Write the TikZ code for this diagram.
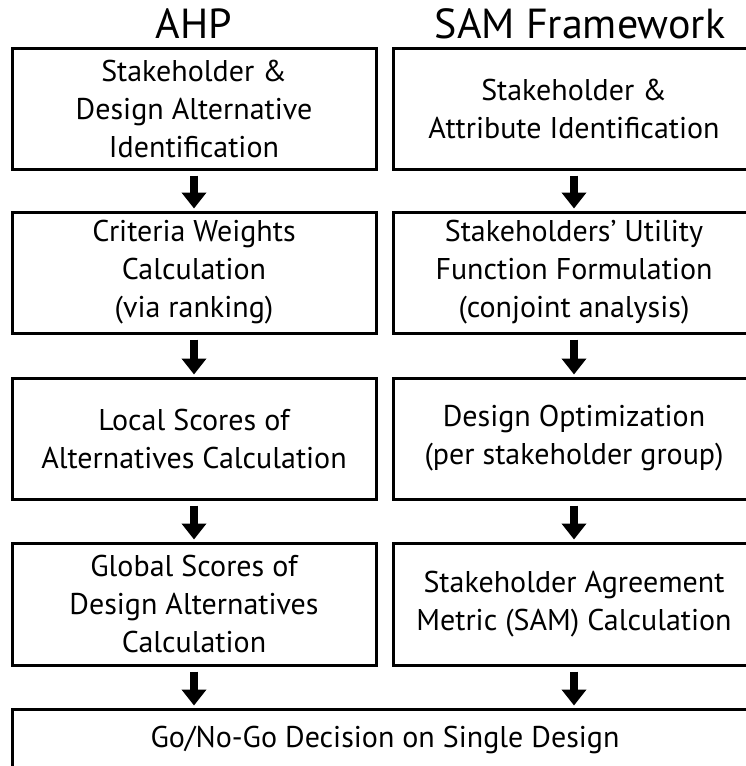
\documentclass[tikz,border=0pt]{standalone}
\usepackage{fontspec}
\setmainfont{PT Sans}
\usetikzlibrary{arrows.meta}
\begin{document}
\begin{tikzpicture}[x=1pt,y=-1pt,line width=3pt,
  step node/.style={draw,rectangle,inner sep=0pt,align=center,font=\fontsize{30}{38}\selectfont},
  title node/.style={font=\fontsize{42}{50}\selectfont},
  big arrow/.style={line width=8pt,-{Triangle[width=24pt,length=16pt]},shorten <=5pt,shorten >=2pt}]
\useasboundingbox (0,0) rectangle (746,766);
\clip (0,0) rectangle (746,766);
\node[title node] (ahp) at (194,24) {AHP};
\node[title node] (sam) at (580,24) {SAM Framework};
\begin{scope}[every node/.style={step node}]
\node[minimum width=364pt,minimum height=121pt] (l1) at (194,108.5) {Stakeholder \&\\Design Alternative\\Identification};%1
\node[minimum width=364pt,minimum height=121pt] (l2) at (194,272.5) {Criteria Weights\\Calculation\\(via ranking)};%2
\node[minimum width=364pt,minimum height=121pt] (l3) at (194,438.5) {Local Scores of\\Alternatives Calculation};%3
\node[minimum width=364pt,minimum height=122pt] (l4) at (194,604) {Global Scores of\\Design Alternatives\\Calculation};%4
\node[minimum width=362pt,minimum height=121pt] (r1) at (574,108.5) {Stakeholder \&\\Attribute Identification};%5
\node[minimum width=362pt,minimum height=121pt] (r2) at (574,272.5) {Stakeholders’ Utility\\Function Formulation\\(conjoint analysis)};%6
\node[minimum width=362pt,minimum height=121pt] (r3) at (574,438.5) {Design Optimization\\(per stakeholder group)};%7
\node[minimum width=362pt,minimum height=122pt] (r4) at (574,604) {Stakeholder Agreement\\Metric (SAM) Calculation};%8
\node[minimum width=746pt,minimum height=62pt] (go) at (385,740) {Go/No-Go Decision on Single Design};%9
\end{scope}
\begin{scope}[every path/.style={big arrow}]
\draw (l1.south) -- (l2.north);
\draw (l2.south) -- (l3.north);
\draw (l3.south) -- (l4.north);
\draw (l4.south) -- (l4.south |- go.north);
\draw (r1.south) -- (r2.north);
\draw (r2.south) -- (r3.north);
\draw (r3.south) -- (r4.north);
\draw (r4.south) -- (r4.south |- go.north);
\end{scope}
\end{tikzpicture}
\end{document}
